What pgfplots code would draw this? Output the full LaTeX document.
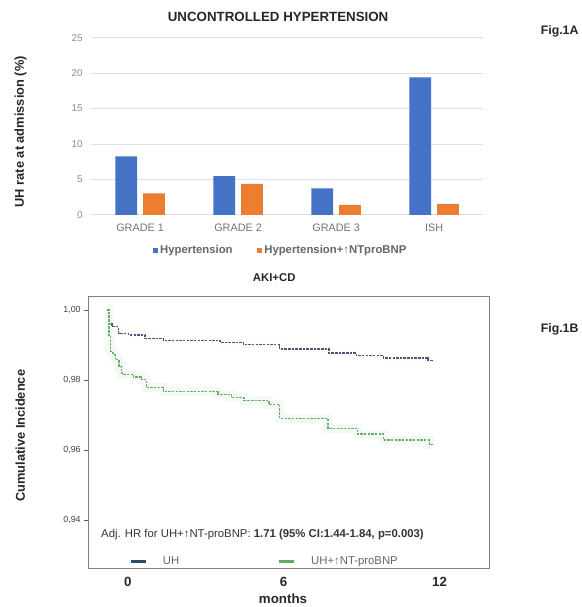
\documentclass[border=0pt]{standalone}
\usepackage{pgfplots}
\pgfplotsset{compat=1.18}
\usepackage{fontspec}
\setmainfont{Liberation Sans}

\definecolor{xlblue}{HTML}{4472C4}
\definecolor{xlorange}{HTML}{ED7D31}
\definecolor{uhblue}{RGB}{72,84,140}
\definecolor{uhgreen}{RGB}{104,176,104}
\definecolor{legblue}{RGB}{38,78,108}
\definecolor{leggreen}{RGB}{100,170,100}

\newcommand\fs[1]{\fontsize{#1}{#1}\selectfont}

\begin{document}
\begin{tikzpicture}
\path (0bp,0bp) rectangle (587bp,-607bp);

% ---- Fig. 1A: bar chart ----
\begin{axis}[
  at={(92bp,-217bp)}, anchor=south west,
  scale only axis, width=396bp, height=179bp,
  ybar=6bp, bar width=22bp,
  xmin=-0.5, xmax=3.5, ymin=0, ymax=25,
  xtick={0,1,2,3}, xticklabels={GRADE 1,GRADE 2,GRADE 3,ISH},
  ytick={0,5,10,15,20,25},
  axis line style={draw=none},
  major tick length=0pt,
  ymajorgrids, grid style={black!12, line width=0.8bp},
  /pgf/number format/assume math mode=true,
  yticklabel style={font=\fs{10}, text=black!45, xshift=-5bp},
  xticklabel style={font=\fs{11}, text=black!55, yshift=-6bp},
  title={UNCONTROLLED HYPERTENSION},
  every axis title/.style={at={(axis description cs:0.477,1.118)}, anchor=center,
    font=\fs{13.5}\bfseries, text=black!85},
  ylabel={UH rate at admission (\%)},
  ylabel style={at={(axis description cs:-0.180,0.469)}, anchor=center, font=\fs{13}\bfseries, text=black!85},
  legend columns=2,
  legend style={at={(axis description cs:0.158,-0.201)}, anchor=west, draw=none, fill=none,
    inner sep=0pt, font=\fs{11.5}\bfseries, text=black!60,
    /tikz/every even column/.append style={column sep=23bp}},
]
\addplot[fill=xlblue, draw=none,
  legend image code/.code={\fill[xlblue] (0bp,-2.5bp) rectangle (5bp,2.5bp);}]
  coordinates {(0,8.25) (1,5.45) (2,3.72) (3,19.4)};
\addplot[fill=xlorange, draw=none,
  legend image code/.code={\fill[xlorange] (0bp,-2.5bp) rectangle (5bp,2.5bp);}]
  coordinates {(0,3.03) (1,4.38) (2,1.40) (3,1.54)};
\legend{Hypertension, Hypertension+↑NTproBNP}
\end{axis}

% ---- Fig. 1B: cumulative incidence ----
\begin{axis}[
  at={(89bp,-574bp)}, anchor=south west,
  scale only axis, width=405bp, height=275bp,
  xmin=-1.524, xmax=13.905, ymin=0.92635, ymax=1.00395,
  xtick={0,6,12}, ytick={0.94,0.96,0.98,1.00},
  scaled y ticks=false,
  axis line style={black!50, line width=1bp},
  tick pos=left, tick align=outside, major tick length=4bp,
  xtick style={draw=none},
  ytick style={black!65, line width=0.8bp},
  /pgf/number format/assume math mode=true,
  yticklabel style={font=\fs{9}, text=black!75,
    /pgf/number format/.cd, fixed, fixed zerofill, precision=2, use comma},
  xticklabel style={font=\fs{13.5}\bfseries, text=black!85, yshift=-1bp},
  title={AKI+CD},
  every axis title/.style={at={(axis description cs:0.464,1.069)}, anchor=center,
    font=\fs{11.5}\bfseries, text=black!85},
  xlabel={months},
  xlabel style={at={(axis description cs:0.486,-0.112)}, anchor=center, font=\fs{13.5}\bfseries, text=black!85},
  ylabel={Cumulative Incidence},
  ylabel style={at={(axis description cs:-0.169,0.487)}, anchor=center, font=\fs{13}\bfseries, text=black!85},
  legend columns=2,
  legend style={at={(axis description cs:0.104,0.0255)}, anchor=west, draw=none, fill=none,
    inner sep=0pt, font=\fs{11.5}, text=black!60,
    /tikz/every even column/.append style={column sep=98bp}},
]
% faint bands
\addplot[const plot, forget plot, line width=6bp, yellow!4] coordinates {
  (-0.79,1.000) (-0.72,0.9961) (-0.60,0.9952) (-0.35,0.9933) (0.04,0.9929)
  (0.67,0.9919) (1.37,0.9913) (3.55,0.9907) (4.45,0.9901) (5.85,0.9889)
  (7.75,0.9877) (8.80,0.9870) (9.84,0.9863) (11.55,0.9856) (11.73,0.9856)};
\addplot[const plot, forget plot, line width=9bp, uhgreen!7] coordinates {
  (-0.79,1.000) (-0.72,0.9929) (-0.66,0.9882) (-0.56,0.9872) (-0.47,0.9858)
  (-0.34,0.9839) (-0.24,0.9820) (-0.15,0.9816) (0.22,0.9809) (0.54,0.9802)
  (0.72,0.9778) (1.37,0.9767) (3.47,0.9759) (4.00,0.9750) (4.48,0.9742)
  (5.43,0.9731) (5.85,0.9691) (7.70,0.9662) (8.84,0.9646) (9.84,0.9629)
  (11.60,0.9616) (11.73,0.9616)};
% curves
\addplot[const plot, uhblue, line width=1.4bp, dash pattern=on 2.5bp off 1.2bp,
  legend image code/.code={\draw[legblue, solid, line width=2.4bp] (0bp,0bp) -- (15bp,0bp);
    \path[draw=none] (0bp,0bp) -- (30bp,0bp);}]
  coordinates {
  (-0.79,1.000) (-0.72,0.9961) (-0.60,0.9952) (-0.35,0.9933) (0.04,0.9929)
  (0.67,0.9919) (1.37,0.9913) (3.55,0.9907) (4.45,0.9901) (5.85,0.9889)
  (7.75,0.9877) (8.80,0.9870) (9.84,0.9863) (11.55,0.9856) (11.73,0.9856)};
\addplot[const plot, uhgreen, line width=1.4bp, dash pattern=on 2.5bp off 1.2bp,
  legend image code/.code={\draw[leggreen, solid, line width=2.4bp] (0bp,0bp) -- (15bp,0bp);
    \path[draw=none] (0bp,0bp) -- (30bp,0bp);}]
  coordinates {
  (-0.79,1.000) (-0.72,0.9929) (-0.66,0.9882) (-0.56,0.9872) (-0.47,0.9858)
  (-0.34,0.9839) (-0.24,0.9820) (-0.15,0.9816) (0.22,0.9809) (0.54,0.9802)
  (0.72,0.9778) (1.37,0.9767) (3.47,0.9759) (4.00,0.9750) (4.48,0.9742)
  (5.43,0.9731) (5.85,0.9691) (7.70,0.9662) (8.84,0.9646) (9.84,0.9629)
  (11.60,0.9616) (11.73,0.9616)};
\legend{UH, UH+↑NT-proBNP}
\end{axis}

\node[anchor=west, font=\fs{11.5}, text=black!80, inner sep=0pt] at (102bp,-540bp)
  {Adj. HR for UH+↑NT-proBNP: \textbf{1.71 (95\% CI:1.44-1.84, p=0.003)}};

\node[anchor=west, font=\fs{12.5}\bfseries, text=black!85, inner sep=0pt] at (546bp,-32bp) {Fig.1A};
\node[anchor=west, font=\fs{12.5}\bfseries, text=black!85, inner sep=0pt] at (546bp,-333bp) {Fig.1B};
\end{tikzpicture}
\end{document}
